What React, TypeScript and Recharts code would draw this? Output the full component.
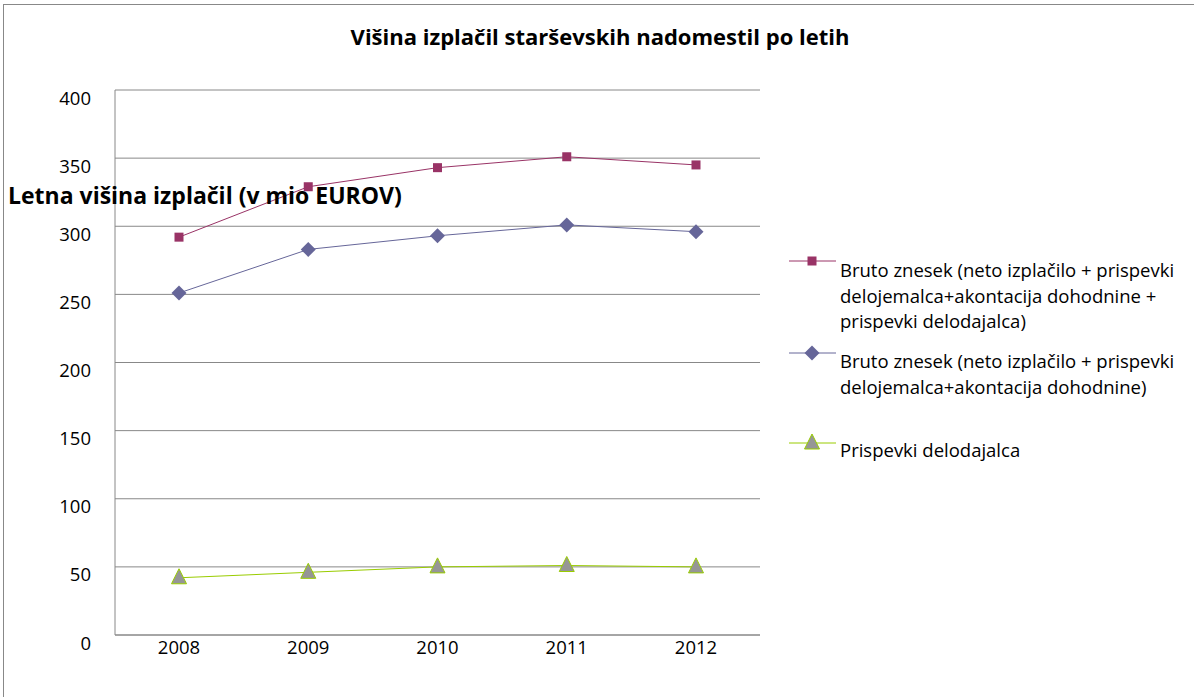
import { LineChart, Line, XAxis, YAxis, CartesianGrid } from "recharts";

const years = ["2008", "2009", "2010", "2011", "2012"];
const brutoSkupaj = [292, 329, 343, 351, 345];
const brutoBrezDelodajalca = [251, 283, 293, 301, 296];
const prispevkiDelodajalca = [42, 46, 50, 51, 50];
const yTicks = [0, 50, 100, 150, 200, 250, 300, 350, 400];

const seriesNames = [
  "Bruto znesek (neto izplačilo + prispevki delojemalca+akontacija dohodnine + prispevki delodajalca)",
  "Bruto znesek (neto izplačilo + prispevki delojemalca+akontacija dohodnine)",
  "Prispevki delodajalca",
];
const legendLines = [
  ["Bruto znesek (neto izplačilo + prispevki", "delojemalca+akontacija dohodnine +", "prispevki delodajalca)"],
  ["Bruto znesek (neto izplačilo + prispevki", "delojemalca+akontacija dohodnine)"],
  ["Prispevki delodajalca"],
];

const data = years.map((y, i) => ({
  year: y,
  a: brutoSkupaj[i],
  b: brutoBrezDelodajalca[i],
  c: prispevkiDelodajalca[i],
}));

const FONT = "'Open Sans', sans-serif";
const colA = "#993366";
const colB = "#666699";
const colC = "#99cc00";

function Square(props: any) {
  const { cx, cy } = props;
  if (cx == null || cy == null) return null;
  return <rect x={cx - 4.5} y={cy - 4.5} width={9} height={9} fill={colA} />;
}

function Diamond(props: any) {
  const { cx, cy } = props;
  if (cx == null || cy == null) return null;
  return (
    <path
      d={`M${cx},${cy - 7.5} L${cx + 7.5},${cy} L${cx},${cy + 7.5} L${cx - 7.5},${cy} Z`}
      fill={colB}
    />
  );
}

function Triangle(props: any) {
  const { cx, cy } = props;
  if (cx == null || cy == null) return null;
  return (
    <path
      d={`M${cx},${cy - 9} L${cx + 7.5},${cy + 6} L${cx - 7.5},${cy + 6} Z`}
      fill="#969696"
      stroke={colC}
      strokeWidth={1}
    />
  );
}

// tick labels sit a bit below their gridlines, as in the original
function YTick(props: any) {
  const { x, y, payload } = props;
  return (
    <text x={x} y={y + 7} textAnchor="end" dominantBaseline="central" fontSize={18.5} fontFamily={FONT} fill="#000">
      {payload.value}
    </text>
  );
}

function XTick(props: any) {
  const { x, y, payload } = props;
  return (
    <text x={x} y={y + 5} textAnchor="middle" dominantBaseline="central" fontSize={18.5} fontFamily={FONT} fill="#000">
      {payload.value}
    </text>
  );
}

const markers = [Square, Diamond, Triangle];
const lineColors = [colA, colB, colC];
// top of first text line / marker centre for each legend entry
const legendTextTops = [257, 348, 437];
const legendMarkerY = [261, 353, 443];

export default function App() {
  return (
    <div
      style={{
        position: "absolute",
        left: 0,
        top: 0,
        width: 1194,
        height: 697,
        background: "#fff",
        overflow: "hidden",
        fontFamily: FONT,
      }}
    >
      <div
        style={{
          position: "absolute",
          left: 3,
          top: 4,
          width: 1300,
          height: 800,
          border: "1px solid #888",
        }}
      />
      <div
        style={{
          position: "absolute",
          left: 0,
          top: 22,
          width: 1200,
          textAlign: "center",
          fontSize: 22,
          lineHeight: "28px",
          fontWeight: 700,
          color: "#000",
        }}
      >
        Višina izplačil starševskih nadomestil po letih
      </div>
      <div style={{ position: "absolute", left: 0, top: 0 }}>
        <LineChart
          width={1194}
          height={697}
          data={data}
          margin={{ top: 90, right: 434, bottom: 22, left: 10 }}
        >
          <CartesianGrid vertical={false} stroke="#888" strokeWidth={1} />
          <XAxis
            dataKey="year"
            axisLine={{ stroke: "#888" }}
            tickLine={false}
            height={40}
            padding={{ left: 64, right: 64 }}
            tick={<XTick />}
            tickMargin={0}
          />
          <YAxis
            domain={[0, 400]}
            ticks={yTicks}
            width={105}
            axisLine={{ stroke: "#888" }}
            tickLine={false}
            tick={<YTick />}
            tickMargin={18}
          />
          <Line
            dataKey="a"
            name={seriesNames[0]}
            stroke={colA}
            strokeWidth={1}
            dot={<Square />}
            isAnimationActive={false}
          />
          <Line
            dataKey="b"
            name={seriesNames[1]}
            stroke={colB}
            strokeWidth={1}
            dot={<Diamond />}
            isAnimationActive={false}
          />
          <Line
            dataKey="c"
            name={seriesNames[2]}
            stroke={colC}
            strokeWidth={1}
            dot={<Triangle />}
            isAnimationActive={false}
          />
        </LineChart>
      </div>
      {legendLines.map((lines, i) => {
        const M = markers[i];
        return (
          <div key={i}>
            <svg
              width={48}
              height={20}
              style={{ position: "absolute", left: 789, top: legendMarkerY[i] - 10 }}
            >
              <line x1={0} y1={10} x2={47} y2={10} stroke={lineColors[i]} strokeWidth={1} />
              <M cx={23} cy={10} />
            </svg>
            <div
              style={{
                position: "absolute",
                left: 840,
                top: legendTextTops[i],
                fontSize: 18.5,
                lineHeight: "25.5px",
                color: "#000",
                whiteSpace: "nowrap",
              }}
            >
              {lines.map((t, j) => (
                <div key={j}>{t}</div>
              ))}
            </div>
          </div>
        );
      })}
      <div
        style={{
          position: "absolute",
          left: 8,
          top: 184,
          fontSize: 23,
          lineHeight: "22px",
          fontWeight: 700,
          color: "#000",
          whiteSpace: "nowrap",
        }}
      >
        Letna višina izplačil (v mio EUROV)
      </div>
    </div>
  );
}
